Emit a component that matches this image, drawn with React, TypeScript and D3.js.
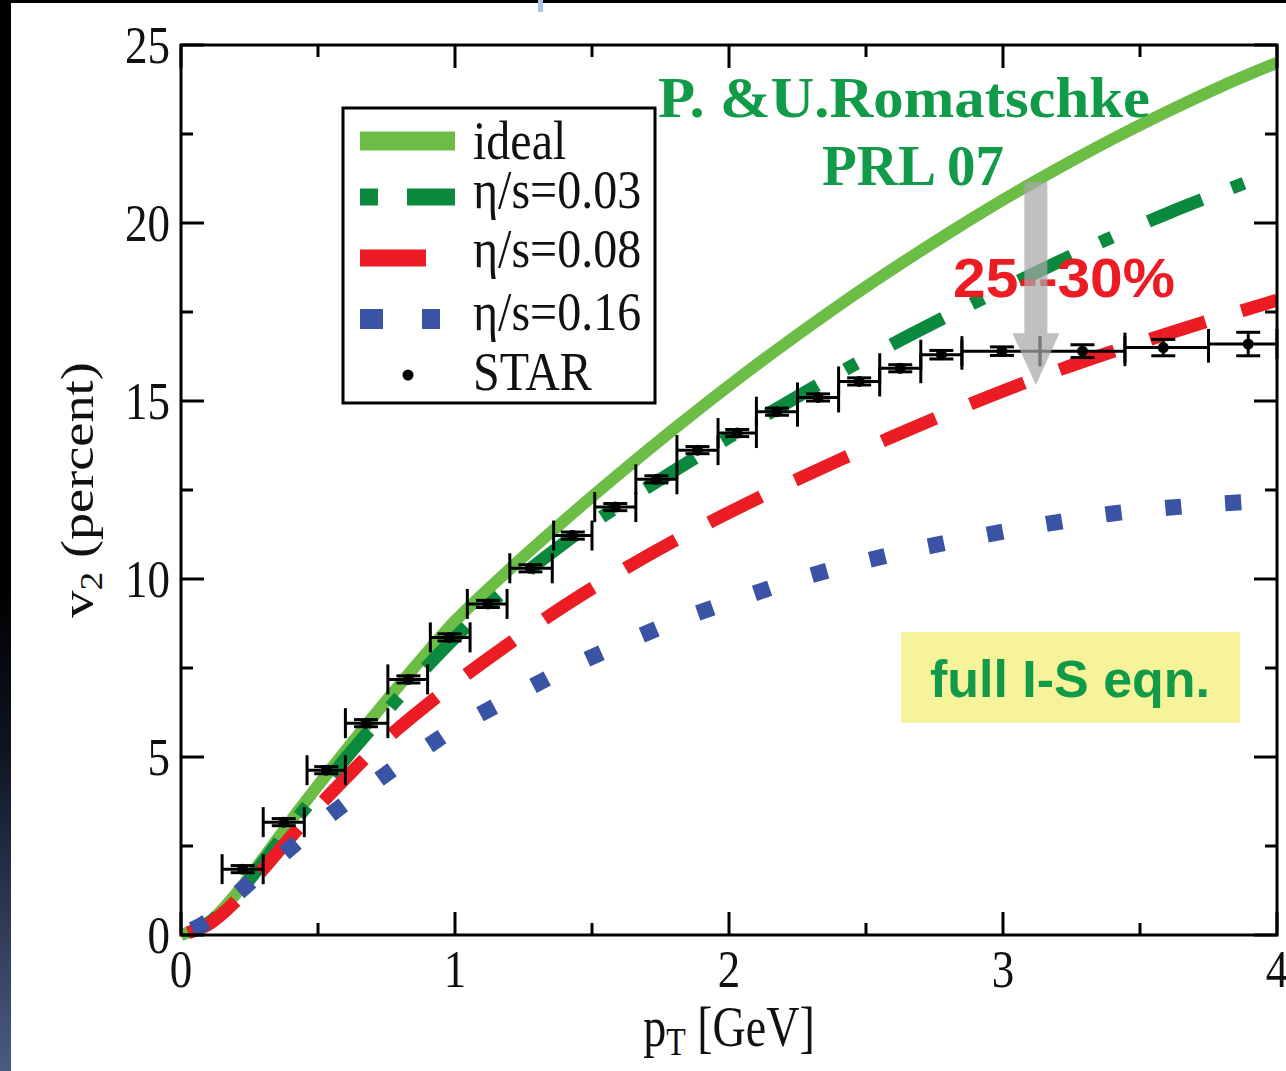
import React, { useEffect, useRef } from "react";
import * as d3 from "d3";

// ---------- data ----------
const PT = [0, 0.1, 0.2, 0.3, 0.4, 0.5, 0.6, 0.7, 0.8, 0.9, 1.0, 1.2, 1.4, 1.6, 1.8, 2.0, 2.2, 2.4, 2.6, 2.8, 3.0, 3.2, 3.4, 3.6, 3.8, 4.0];
const IDEAL = [0, 0.35, 1.15, 2.15, 3.2, 4.2, 5.17, 6.12, 7.05, 7.95, 8.82, 10.28, 11.65, 12.96, 14.22, 15.43, 16.58, 17.68, 18.72, 19.71, 20.65, 21.53, 22.36, 23.13, 23.85, 24.5];
const ETA003 = [0, 0.33, 1.1, 2.05, 3.05, 4.0, 4.95, 5.85, 6.72, 7.56, 8.35, 9.8, 11.02, 12.07, 13.04, 13.98, 14.9, 15.78, 16.61, 17.4, 18.16, 18.9, 19.61, 20.27, 20.88, 21.47];
const ETA008 = [0, 0.3, 0.95, 1.85, 2.75, 3.6, 4.4, 5.17, 5.85, 6.48, 7.08, 8.2, 9.25, 10.2, 11.07, 11.87, 12.62, 13.33, 14.01, 14.66, 15.28, 15.86, 16.39, 16.89, 17.37, 17.83];
const ETA016 = [0, 0.4, 1.12, 1.8, 2.45, 3.1, 3.7, 4.25, 4.8, 5.3, 5.8, 6.65, 7.45, 8.15, 8.8, 9.35, 9.87, 10.32, 10.7, 11.03, 11.33, 11.6, 11.84, 12.0, 12.12, 12.22];

const STAR_PT = [0.225, 0.375, 0.53, 0.675, 0.83, 0.98, 1.12, 1.275, 1.43, 1.585, 1.735, 1.885, 2.03, 2.175, 2.325, 2.475, 2.625, 2.775, 2.996, 3.29, 3.585, 3.895];
const STAR_V2 = [1.85, 3.17, 4.63, 5.95, 7.18, 8.36, 9.3, 10.3, 11.22, 12.02, 12.8, 13.62, 14.1, 14.7, 15.1, 15.55, 15.92, 16.3, 16.4, 16.4, 16.5, 16.6];
const STAR_LO = [0.15, 0.30, 0.46, 0.60, 0.755, 0.91, 1.045, 1.2, 1.36, 1.51, 1.66, 1.81, 1.96, 2.10, 2.25, 2.40, 2.55, 2.70, 2.85, 3.135, 3.445, 3.75];
const STAR_HI = [0.30, 0.45, 0.60, 0.755, 0.90, 1.055, 1.19, 1.355, 1.5, 1.66, 1.81, 1.96, 2.10, 2.25, 2.40, 2.55, 2.70, 2.85, 3.135, 3.445, 3.75, 4.0];
const STAR_DY = [0.1, 0.1, 0.1, 0.1, 0.1, 0.1, 0.1, 0.1, 0.1, 0.1, 0.1, 0.1, 0.1, 0.1, 0.1, 0.1, 0.1, 0.12, 0.12, 0.18, 0.23, 0.33];

const X_TICKS = [0, 1, 2, 3, 4];
const X_MINOR = [0.5, 1.5, 2.5, 3.5];
const Y_TICKS = [0, 5, 10, 15, 20, 25];
const Y_MINOR = [2.5, 7.5, 12.5, 17.5, 22.5];
const LEGEND_LABELS = ["ideal", "η/s=0.03", "η/s=0.08", "η/s=0.16", "STAR"];

// ---------- layout ----------
const W = 1286;
const H = 1071;
const X0 = 181, X1 = 1277, Y0 = 935, Y1 = 45;
const x = d3.scaleLinear().domain([0, 4]).range([X0, X1]);
const y = d3.scaleLinear().domain([0, 25]).range([Y0, Y1]);

const C_IDEAL = "#6cbd45";
const C_003 = "#0b8a3e";
const C_008 = "#ec1c24";
const C_016 = "#3a53a4";
const C_ANN = "#119a47";

const SERIF = "'Liberation Serif', 'Times New Roman', serif";
const SANS = "'Liberation Sans', Arial, sans-serif";
const SY = 1.18;

const line = d3
  .line<[number, number]>()
  .x((d) => x(d[0]))
  .y((d) => y(d[1]))
  .curve(d3.curveCatmullRom.alpha(0.5));

const zip = (a: number[], b: number[]) => a.map((v, i) => [v, b[i]] as [number, number]);

function lengthAtX(el: SVGPathElement, xt: number) {
  const total = el.getTotalLength();
  let lo = 0, hi = total;
  for (let i = 0; i < 40; i++) {
    const mid = (lo + hi) / 2;
    if (el.getPointAtLength(mid).x < xt) lo = mid;
    else hi = mid;
  }
  return (lo + hi) / 2;
}

function setDash(el: SVGPathElement | null, a: number, b: number, n: number, pattern: (P: number) => number[], shift: number) {
  if (!el) return;
  const La = lengthAtX(el, x(a));
  const Lb = lengthAtX(el, x(b));
  const P = (Lb - La) / n;
  const start = La + shift;
  const off = (((-start) % P) + P) % P;
  el.setAttribute("stroke-dasharray", pattern(P).map((v) => v.toFixed(2)).join(" "));
  el.setAttribute("stroke-dashoffset", off.toFixed(2));
}

export default function App() {
  const r003 = useRef<SVGPathElement>(null);
  const r008 = useRef<SVGPathElement>(null);
  const r016 = useRef<SVGPathElement>(null);

  useEffect(() => {
    setDash(r003.current, 1.27, 3.53, 5, (P) => [58, 32, 13, P - 103], 0);
    setDash(r008.current, 0.52, 3.87, 11, (P) => [58, P - 58], 0);
    setDash(r016.current, 1.117, 3.84, 13, (P) => [16, P - 16], -8);
  }, []);

  const legendRows = [141, 197, 258, 319, 375];
  const legendBase = [159, 208, 267, 330, 390];

  return (
    <svg width={W} height={H} style={{ position: "absolute", left: 0, top: 0, background: "#fff" }}>
      <defs>
        <linearGradient id="leftstrip" x1="0" y1="0" x2="0" y2="1">
          <stop offset="0" stopColor="#000" />
          <stop offset="0.55" stopColor="#000" />
          <stop offset="0.7" stopColor="#0e1522" />
          <stop offset="1" stopColor="#4a5b82" />
        </linearGradient>
        <clipPath id="plotclip">
          <rect x={0} y={0} width={X1} height={H} />
        </clipPath>
      </defs>
      <rect x={0} y={0} width={W} height={H} fill="#fff" />
      <rect x={0} y={0} width={11} height={H} fill="url(#leftstrip)" />
      <rect x={0} y={0} width={W} height={3} fill="#000" />
      <rect x={538} y={0} width={5} height={12} fill="#a8c4e6" />

      {/* curves */}
      <g clipPath="url(#plotclip)" fill="none">
        <path d={line(zip(PT, IDEAL)) || ""} stroke={C_IDEAL} strokeWidth={12} />
        <path ref={r003} d={line(zip(PT, ETA003)) || ""} stroke={C_003} strokeWidth={13} />
        <path ref={r008} d={line(zip(PT, ETA008)) || ""} stroke={C_008} strokeWidth={13} />
        <path ref={r016} d={line(zip(PT, ETA016)) || ""} stroke={C_016} strokeWidth={16} />
      </g>

      {/* STAR data */}
      <g stroke="#000" strokeWidth={3} fill="#000">
        {STAR_PT.map((p, i) => {
          const cy = y(STAR_V2[i]);
          const cx = x(p);
          const xl = x(STAR_LO[i]);
          const xh = x(STAR_HI[i]);
          const yt = y(STAR_V2[i] + STAR_DY[i]);
          const yb = y(STAR_V2[i] - STAR_DY[i]);
          return (
            <g key={i}>
              <line x1={xl} x2={xh} y1={cy} y2={cy} />
              <line x1={xl} x2={xl} y1={cy - 15} y2={cy + 15} />
              <line x1={xh} x2={xh} y1={cy - 15} y2={cy + 15} />
              <line x1={cx} x2={cx} y1={yt} y2={yb} />
              <line x1={cx - 12} x2={cx + 12} y1={yt} y2={yt} />
              <line x1={cx - 12} x2={cx + 12} y1={yb} y2={yb} />
              <circle cx={cx} cy={cy} r={5.5} stroke="none" />
            </g>
          );
        })}
      </g>

      {/* frame and ticks */}
      <g stroke="#000" strokeWidth={3} fill="none">
        <rect x={X0} y={Y1} width={X1 - X0} height={Y0 - Y1} />
        {X_TICKS.map((t) => (
          <g key={"xt" + t}>
            <line x1={x(t)} x2={x(t)} y1={Y0} y2={Y0 - 23} />
            <line x1={x(t)} x2={x(t)} y1={Y1} y2={Y1 + 23} />
          </g>
        ))}
        {X_MINOR.map((t) => (
          <g key={"xm" + t}>
            <line x1={x(t)} x2={x(t)} y1={Y0} y2={Y0 - 12} />
            <line x1={x(t)} x2={x(t)} y1={Y1} y2={Y1 + 12} />
          </g>
        ))}
        {Y_TICKS.map((t) => (
          <g key={"yt" + t}>
            <line x1={X0} x2={X0 + 23} y1={y(t)} y2={y(t)} />
            <line x1={X1} x2={X1 - 23} y1={y(t)} y2={y(t)} />
          </g>
        ))}
        {Y_MINOR.map((t) => (
          <g key={"ym" + t}>
            <line x1={X0} x2={X0 + 12} y1={y(t)} y2={y(t)} />
            <line x1={X1} x2={X1 - 12} y1={y(t)} y2={y(t)} />
          </g>
        ))}
      </g>

      {/* tick labels */}
      <g fontFamily={SERIF} fontSize={45} fill="#111">
        {Y_TICKS.map((t) => (
          <text key={"yl" + t} transform={`translate(170,${y(t) + 18}) scale(1,${SY})`} textAnchor="end">
            {t}
          </text>
        ))}
        {X_TICKS.map((t) => (
          <text key={"xl" + t} transform={`translate(${x(t)},987) scale(1,${SY})`} textAnchor="middle">
            {t}
          </text>
        ))}
      </g>

      {/* axis titles */}
      <g fontFamily={SERIF} fill="#111">
        <text transform={`translate(93,490) scale(1,${SY}) rotate(-90)`} textAnchor="middle" fontSize={46}>
          v<tspan fontSize={32} dy={9}>2</tspan>
          <tspan dy={-9}> (percent)</tspan>
        </text>
        <text transform={`translate(729,1046) scale(1,1.25)`} textAnchor="middle" fontSize={46}>
          p<tspan fontSize={32} dy={7}>T</tspan>
          <tspan dy={-7}> [GeV]</tspan>
        </text>
      </g>

      {/* legend */}
      <g>
        <rect x={343} y={108} width={312} height={295} fill="#fff" stroke="#000" strokeWidth={3} />
        <line x1={360} x2={455} y1={legendRows[0]} y2={legendRows[0]} stroke={C_IDEAL} strokeWidth={19} />
        <line x1={360} x2={378} y1={legendRows[1]} y2={legendRows[1]} stroke={C_003} strokeWidth={17} />
        <line x1={407} x2={455} y1={legendRows[1]} y2={legendRows[1]} stroke={C_003} strokeWidth={17} />
        <line x1={360} x2={426} y1={legendRows[2]} y2={legendRows[2]} stroke={C_008} strokeWidth={17} />
        <line x1={360} x2={383} y1={legendRows[3]} y2={legendRows[3]} stroke={C_016} strokeWidth={20} />
        <line x1={422} x2={440} y1={legendRows[3]} y2={legendRows[3]} stroke={C_016} strokeWidth={20} />
        <circle cx={408} cy={legendRows[4]} r={5.5} fill="#000" />
        <g fontFamily={SERIF} fontSize={48} fill="#111">
          {LEGEND_LABELS.map((s, i) => (
            <text key={s} transform={`translate(473,${legendBase[i]}) scale(1,1.15)`}>
              {s}
            </text>
          ))}
        </g>
      </g>

      {/* annotations */}
      <text x={658} y={117} fontFamily={SERIF} fontWeight="bold" fontSize={57} fill={C_ANN} textLength={492} lengthAdjust="spacingAndGlyphs">
        P. &amp;U.Romatschke
      </text>
      <text x={913} y={185} fontFamily={SERIF} fontWeight="bold" fontSize={57} fill={C_ANN} textAnchor="middle">
        PRL 07
      </text>
      <text x={953} y={297} fontFamily={SANS} fontWeight="bold" fontSize={56} fill={C_008} textLength={222} lengthAdjust="spacingAndGlyphs">
        25--30%
      </text>

      {/* grey arrow */}
      <g fill="#a8a8a8" opacity={0.72}>
        <path
          d={`M${x(3.12) - 11.5},${y(21.15)} L${x(3.12) + 11.5},${y(21.15)} L${x(3.12) + 11.5},${y(16.9)} L${x(3.12) + 23.5},${y(16.9)} L${x(3.12)},${y(15.45)} L${x(3.12) - 23.5},${y(16.9)} L${x(3.12) - 11.5},${y(16.9)} Z`}
        />
      </g>

      {/* yellow box */}
      <rect x={x(2.628)} y={y(8.51)} width={x(3.865) - x(2.628)} height={y(5.96) - y(8.51)} fill="#f7f39a" />
      <text x={930} y={697} fontFamily={SANS} fontWeight="bold" fontSize={52} fill={C_ANN} textLength={280} lengthAdjust="spacingAndGlyphs">
        full I-S eqn.
      </text>
    </svg>
  );
}
